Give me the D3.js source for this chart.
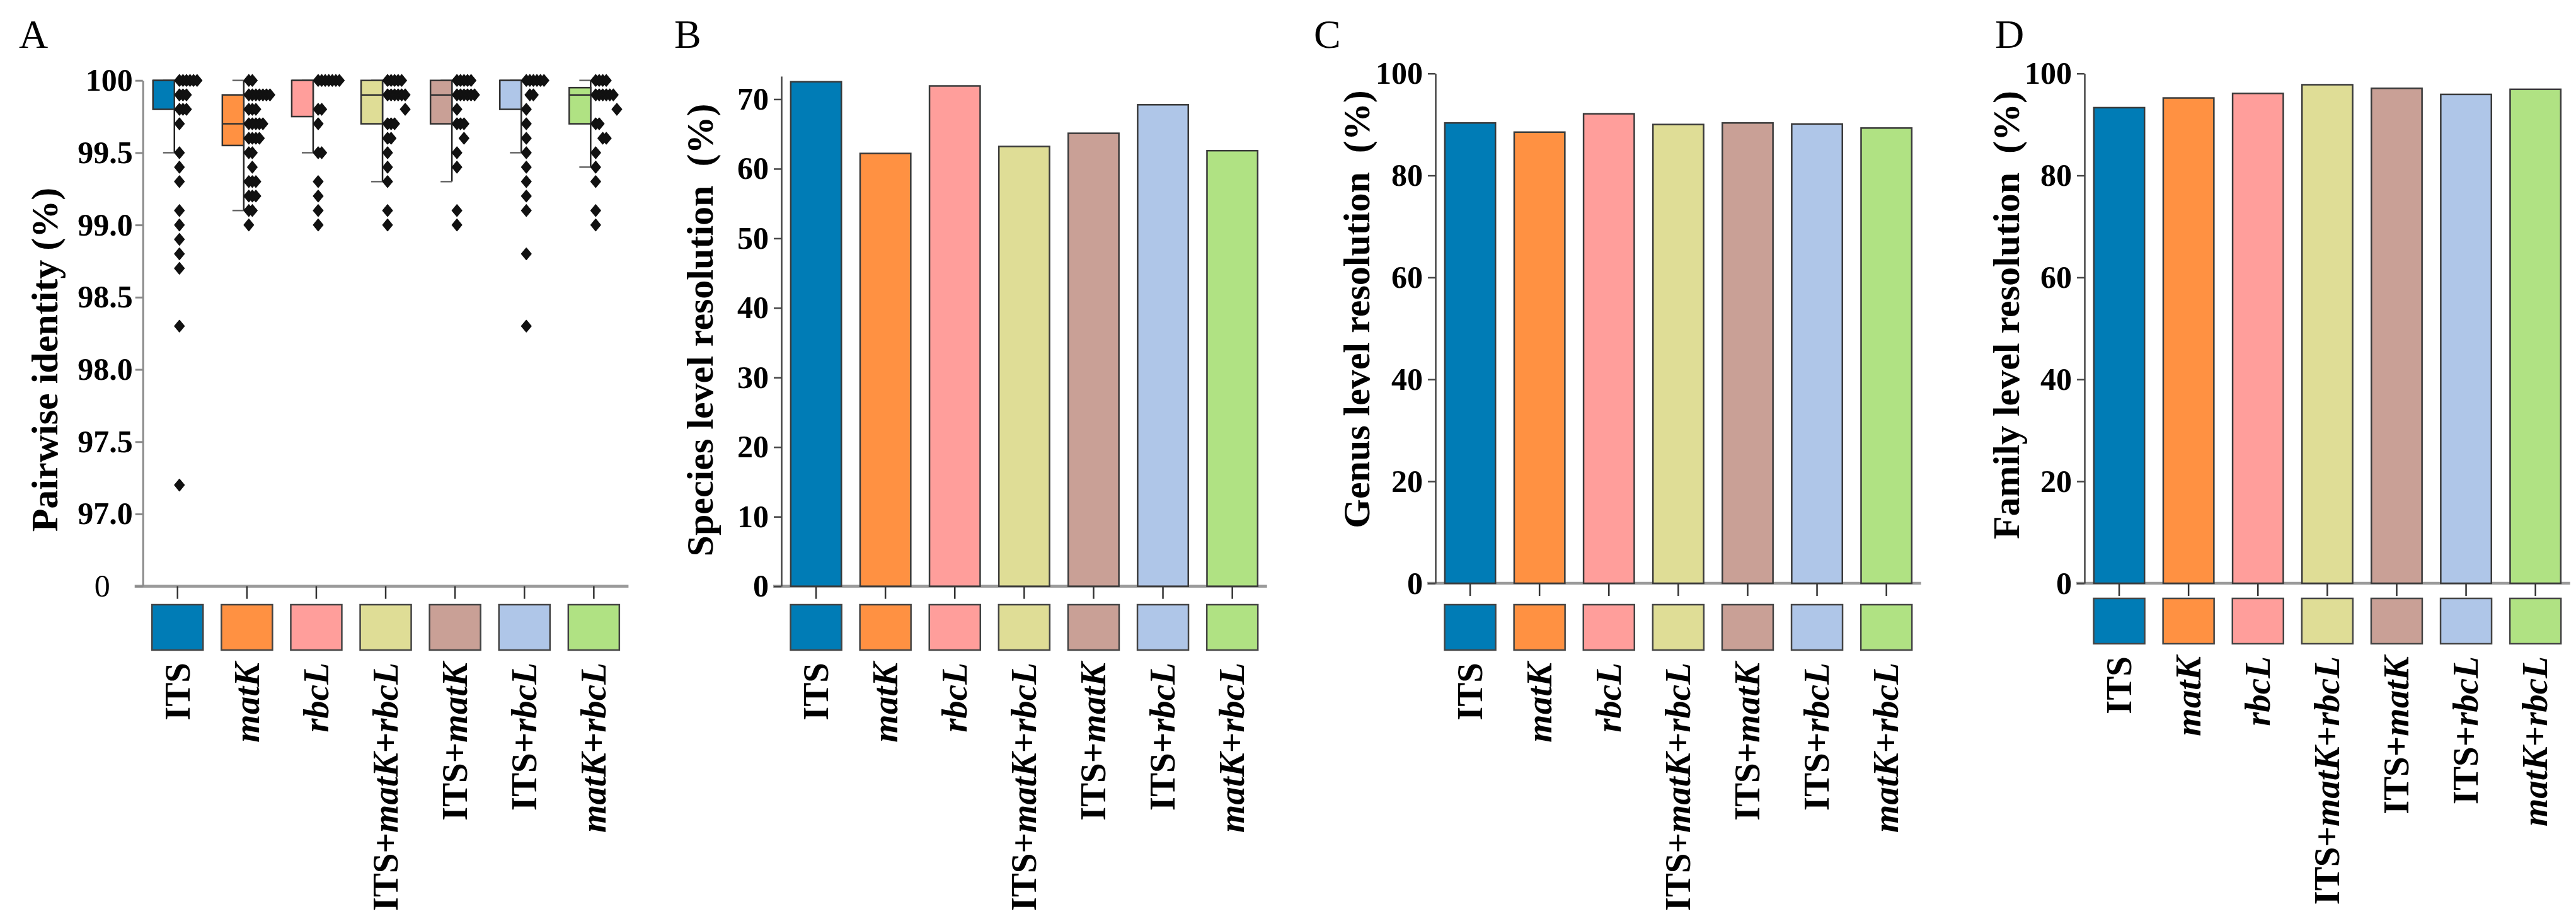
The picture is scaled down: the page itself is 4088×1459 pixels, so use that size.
<!DOCTYPE html>
<html>
<head>
<meta charset="utf-8">
<script src="https://cdn.jsdelivr.net/npm/d3@7"></script>
<style>
  body { margin: 0; background: #fff; }
  text { font-family: "Liberation Serif", "Times New Roman", serif; }
</style>
</head>
<body>
<svg id="fig" width="4088" height="1459"></svg>
<script>
// categories and colours shared by all four panels
const categories = ['ITS', 'matK', 'rbcL', 'ITS+matK+rbcL', 'ITS+matK', 'ITS+rbcL', 'matK+rbcL'];
const colors = ['#007cb6', '#ff9142', '#ff9e9b', '#dfdd96', '#c9a096', '#afc6e8', '#b0e283'];

// panel A: box plot summary (pairwise identity, %)
const boxQ1 = [99.8, 99.55, 99.75, 99.7, 99.7, 99.8, 99.7];
const boxMedian = [100, 99.7, 100, 99.9, 99.9, 100, 99.9];
const boxQ3 = [100, 99.9, 100, 100, 100, 100, 99.95];
const whiskerLow = [99.5, 99.1, 99.5, 99.3, 99.3, 99.5, 99.4];
const whiskerHigh = [100, 100, 100, 100, 100, 100, 100];

// panel A: raw points as [value, count, first stack slot]
const ptsITS = [[100,6,0],[99.9,3,0],[99.8,3,0],[99.7,1,0],[99.5,1,0],[99.4,1,0],[99.3,1,0],[99.1,1,0],[99.0,1,0],[98.9,1,0],[98.8,1,0],[98.7,1,0],[98.3,1,0],[97.2,1,0]];
const ptsMatK = [[100,2,0],[99.9,7,0],[99.8,3,0],[99.7,5,0],[99.6,4,0],[99.5,2,0],[99.4,1,1],[99.3,3,0],[99.2,3,0],[99.1,2,0],[99.0,1,0]];
const ptsRbcL = [[100,7,0],[99.8,2,0],[99.7,1,0],[99.5,2,0],[99.3,1,0],[99.2,1,0],[99.1,1,0],[99.0,1,0]];
const ptsITSmatKrbcL = [[100,5,0],[99.9,6,0],[99.8,1,5],[99.7,3,0],[99.6,2,0],[99.5,1,0],[99.4,1,0],[99.3,1,0],[99.1,1,0],[99.0,1,0]];
const ptsITSmatK = [[100,5,0],[99.9,6,0],[99.8,1,0],[99.7,3,0],[99.6,1,2],[99.5,1,0],[99.4,1,0],[99.1,1,0],[99.0,1,0]];
const ptsITSrbcL = [[100,6,0],[99.9,2,1],[99.8,1,0],[99.7,1,0],[99.6,1,0],[99.5,1,0],[99.4,1,0],[99.3,1,0],[99.2,1,0],[99.1,1,0],[98.8,1,0],[98.3,1,0]];
const ptsMatKrbcL = [[100,4,0],[99.9,6,0],[99.8,1,6],[99.7,2,0],[99.6,2,2],[99.5,1,0],[99.4,1,0],[99.3,1,0],[99.1,1,0],[99.0,1,0]];
const identityPoints = [ptsITS, ptsMatK, ptsRbcL, ptsITSmatKrbcL, ptsITSmatK, ptsITSrbcL, ptsMatKrbcL];

// panel A axis is broken: the lowest tick stands for 0
const identityTicks = [96.5, 97, 97.5, 98, 98.5, 99, 99.5, 100];
const identityTickLabels = ['0', '97.0', '97.5', '98.0', '98.5', '99.0', '99.5', '100'];

// panels B-D: resolution (%)
const speciesRes = [72.5, 62.2, 71.9, 63.2, 65.1, 69.2, 62.6];
const genusRes = [90.3, 88.5, 92.1, 90.0, 90.3, 90.1, 89.3];
const familyRes = [93.3, 95.2, 96.1, 97.8, 97.1, 95.9, 96.9];
const speciesTicks = [0, 10, 20, 30, 40, 50, 60, 70];
const percentTicks = [0, 20, 40, 60, 80, 100];

const svg = d3.select('#fig');
svg.append('rect').attr('width', 4088).attr('height', 1459).attr('fill', '#fff');

const step = 110.1;

function catLabel(sel, txt) {
	txt.split(/(matK|rbcL)/).filter(s => s).forEach(p => {
		sel.append('tspan')
			.attr('font-style', /^(matK|rbcL)$/.test(p) ? 'italic' : 'normal')
			.text(p);
	});
}

// common frame: x band scale, x axis, legend swatches and rotated labels
function frame(g, x0, y0, legendTop) {
	const x = d3.scaleBand().domain(categories)
		.range([x0, x0 + step * categories.length])
		.paddingInner(0.27).paddingOuter(0.135);

	g.append('line')
		.attr('x1', x0 - 13).attr('x2', x0 + step * categories.length)
		.attr('y1', y0).attr('y2', y0)
		.attr('stroke', '#9a9a9a').attr('stroke-width', 4.5);

	const xa = g.append('g').attr('transform', 'translate(0,' + y0 + ')')
		.call(d3.axisBottom(x).tickSize(20).tickFormat(''));
	xa.select('.domain').remove();
	xa.selectAll('.tick line').attr('stroke', '#333').attr('stroke-width', 2.5);

	g.selectAll('.swatch').data(categories).join('rect')
		.attr('x', d => x(d) + x.bandwidth() / 2 - 40.5)
		.attr('y', legendTop)
		.attr('width', 81).attr('height', 72)
		.attr('fill', (d, i) => colors[i])
		.attr('stroke', '#444').attr('stroke-width', 2.5);

	g.selectAll('.catlab').data(categories).join('text')
		.attr('transform', d => 'translate(' + (x(d) + x.bandwidth() / 2) + ',' + (legendTop + 92) + ') rotate(-90)')
		.attr('dy', '0.33em')
		.attr('text-anchor', 'end')
		.attr('font-size', 57).attr('font-weight', 'bold')
		.each(function(d) { catLabel(d3.select(this), d); });
	return x;
}

function yTitle(g, tx, ty, txt) {
	g.append('text')
		.attr('transform', 'translate(' + tx + ',' + ty + ') rotate(-90)')
		.attr('text-anchor', 'middle')
		.attr('font-size', 60).attr('font-weight', 'bold')
		.style('white-space', 'pre')
		.text(txt);
}

function panelLetter(g, tx, txt) {
	g.append('text').attr('x', tx).attr('y', 76)
		.attr('font-size', 64).text(txt);
}

function styleY(ya, color, width) {
	ya.select('.domain').attr('stroke', color).attr('stroke-width', width);
	ya.selectAll('.tick line').attr('stroke', color).attr('stroke-width', width);
	ya.selectAll('.tick text')
		.attr('font-family', '"Liberation Serif", serif')
		.attr('font-size', 50).attr('font-weight', 'bold').attr('fill', '#000');
}

// ---------- panel A ----------
(function() {
	const g = svg.append('g');
	const x0 = 226.7, y0 = 930.7;
	const y = d3.scaleLinear().domain([96.5, 100]).range([y0, 127.7]);
	const x = frame(g, x0, y0, 960);

	const ya = g.append('g').attr('transform', 'translate(' + x0 + ',0)')
		.call(d3.axisLeft(y).tickValues(identityTicks).tickSize(12).tickSizeOuter(0).tickPadding(4)
			.tickFormat((d, i) => identityTickLabels[i]));
	styleY(ya, '#8a8a8a', 3);
	ya.selectAll('.tick text').filter(d => d === 96.5)
		.attr('font-weight', 'normal').attr('dx', -36);

	const cx = d => x(d) + x.bandwidth() / 2;

	const boxes = g.selectAll('.box').data(categories).join('g');
	// whisker line sits at the right edge of the box
	boxes.append('line')
		.attr('x1', d => cx(d) - 5).attr('x2', d => cx(d) - 5)
		.attr('y1', (d, i) => y(whiskerHigh[i])).attr('y2', (d, i) => y(whiskerLow[i]))
		.attr('stroke', '#222').attr('stroke-width', 2.5);
	[whiskerLow, whiskerHigh].forEach(w => {
		boxes.append('line')
			.attr('x1', d => cx(d) - 23).attr('x2', d => cx(d) - 5)
			.attr('y1', (d, i) => y(w[i])).attr('y2', (d, i) => y(w[i]))
			.attr('stroke', '#666').attr('stroke-width', 2.5);
	});
	boxes.append('rect')
		.attr('x', d => cx(d) - 39).attr('width', 34)
		.attr('y', (d, i) => y(boxQ3[i]))
		.attr('height', (d, i) => y(boxQ1[i]) - y(boxQ3[i]))
		.attr('fill', (d, i) => colors[i])
		.attr('stroke', '#333').attr('stroke-width', 2.5);
	boxes.append('line')
		.attr('x1', d => cx(d) - 39).attr('x2', d => cx(d) - 5)
		.attr('y1', (d, i) => y(boxMedian[i])).attr('y2', (d, i) => y(boxMedian[i]))
		.attr('stroke', '#333').attr('stroke-width', 2.5);

	const diamond = {
		draw(ctx, size) {
			const r = Math.sqrt(size);
			ctx.moveTo(0, -r * 0.6);
			ctx.lineTo(r * 0.5, 0);
			ctx.lineTo(0, r * 0.6);
			ctx.lineTo(-r * 0.5, 0);
			ctx.closePath();
		}
	};
	const sym = d3.symbol().type(diamond).size(240);
	const slot = d3.scaleLinear().domain([0, 1]).range([3, 8.6]);

	categories.forEach((c, ci) => {
		const pts = [];
		identityPoints[ci].forEach(([v, n, s]) => {
			for (let k = 0; k < n; k++) pts.push({v: v, k: s + k});
		});
		g.append('g').selectAll('path').data(pts).join('path')
			.attr('transform', p => 'translate(' + (cx(c) + slot(p.k)) + ',' + y(p.v) + ')')
			.attr('d', sym)
			.attr('fill', '#111').attr('stroke', '#111').attr('stroke-width', 1.5)
			.attr('stroke-linejoin', 'round');
	});

	yTitle(g, 91, 571, 'Pairwise identity (%)');
	panelLetter(g, 30, 'A');
})();

// ---------- panels B, C, D ----------
function barPanel(opts) {
	const g = svg.append('g');
	const y = d3.scaleLinear().domain([0, opts.ymax]).range([opts.y0, opts.ytop]);
	const x = frame(g, opts.x0, opts.y0, opts.legendTop);

	g.selectAll('.bar').data(opts.values).join('rect')
		.attr('x', (d, i) => x(categories[i]))
		.attr('width', x.bandwidth())
		.attr('y', d => y(d))
		.attr('height', d => opts.y0 - y(d))
		.attr('fill', (d, i) => colors[i])
		.attr('stroke', '#3a3a3a').attr('stroke-width', 2.5);

	const ya = g.append('g').attr('transform', 'translate(' + opts.x0 + ',0)')
		.call(d3.axisLeft(y).tickValues(opts.ticks).tickSize(12).tickSizeOuter(0).tickPadding(8));
	styleY(ya, '#444', 2.5);

	yTitle(g, opts.titleX, opts.titleY, opts.title);
	panelLetter(g, opts.letterX, opts.letter);
}

barPanel({x0: 1240, y0: 930.7, ytop: 121, ymax: 73.3, legendTop: 960, values: speciesRes,
	ticks: speciesTicks, title: 'Species level resolution  (%)', titleX: 1131, titleY: 524,
	letter: 'B', letterX: 1070});
barPanel({x0: 2278, y0: 926, ytop: 116.7, ymax: 100, legendTop: 960, values: genusRes,
	ticks: percentTicks, title: 'Genus level resolution  (%)', titleX: 2173, titleY: 491,
	letter: 'C', letterX: 2085});
barPanel({x0: 3308, y0: 926, ytop: 116.7, ymax: 100, legendTop: 950, values: familyRes,
	ticks: percentTicks, title: 'Family level resolution  (%)', titleX: 3204, titleY: 500,
	letter: 'D', letterX: 3166});
</script>
</body>
</html>
